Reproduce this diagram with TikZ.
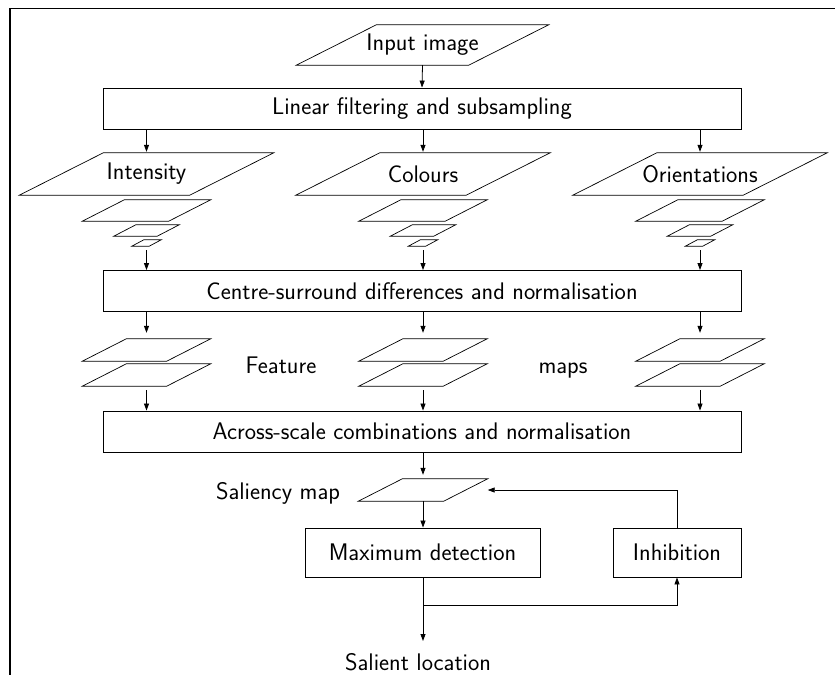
\documentclass[tikz,border=0pt]{standalone}
\usepackage{fontspec}
\usetikzlibrary{arrows.meta,calc}
\tikzset{
  box/.style={draw, line width=0.9pt, inner sep=0pt, font=\sffamily\fontsize{24}{28}\selectfont},
  wide/.style={box, minimum width=638pt, minimum height=41pt},
  plain/.style={inner sep=0pt, font=\sffamily\fontsize{24}{28}\selectfont},
  pline/.style={line width=0.7pt, line join=miter},
  arr/.style={line width=0.8pt, -{Triangle[length=7pt,width=5pt]}},
  conn/.style={line width=0.8pt},
  frame/.style={line width=1.3pt}
}
% name, cx, cy, w, h, text
\newcommand\mypara[6]{%
  \node[plain, minimum width=#4pt, minimum height=#5pt] (#1) at (#2,#3) {#6};
  \draw[pline] ($(#1.north west)+(#5pt,0)$) -- ($(#1.north east)+(#5pt,0)$)
    -- ($(#1.south east)+(-#5pt,0)$) -- ($(#1.south west)+(-#5pt,0)$) -- cycle;}
\begin{document}
\begin{tikzpicture}[x=1pt,y=-1pt]
\useasboundingbox (0,0) rectangle (835,675);
\draw[frame] (835,8.5) -- (10,8.5) -- (10,675);

% top
\mypara{inp}{422.5}{45}{172}{40}{Input image}
\node[wide] (lin) at (422,108.5) {Linear filtering and subsampling};

% columns
\foreach \c/\x/\t in {i/146.5/Intensity, c/423/Colours, o/700/Orientations}{
  \mypara{p\c}{\x}{174}{170}{42}{\t}
  \mypara{a\c}{\x}{210.5}{86}{21}{}
  \mypara{b\c}{\x}{230.5}{43}{11}{}
  \mypara{d\c}{\x}{243}{17}{6}{}
}
\node[wide] (cen) at (422,291) {Centre-surround differences and normalisation};
\foreach \c/\x in {i/146.5, c/423, o/700}{
  \mypara{f\c}{\x}{350}{84}{22}{}
  \mypara{g\c}{\x}{375}{84}{22}{}
}
\node[plain, anchor=base] (feat) at (281,373) {Feature};
\node[plain, anchor=base] (maps) at (563,373) {maps};
\node[wide] (acr) at (422,431.5) {Across-scale combinations and normalisation};

% bottom
\mypara{sal}{423}{490}{85}{22}{}
\node[plain, anchor=base] (sallab) at (278,499) {Saliency map};
\node[box, minimum width=235pt, minimum height=49pt] (max) at (422.5,552.5) {Maximum detection};
\node[box, minimum width=128pt, minimum height=49pt] (inh) at (677,552.5) {Inhibition};
\node[plain, anchor=base] (loc) at (418,670) {Salient location};

% connectors
\draw[arr] (inp.south) -- (lin.north);
\foreach \c in {i,c,o}{
  \draw[arr, shorten >=1pt] (lin.south -| p\c.center) -- (p\c.north);
  \draw[arr, shorten <=4pt] (d\c.south) -- (cen.north -| d\c.center);
  \draw[arr, shorten >=6pt] (cen.south -| f\c.center) -- (f\c.north);
  \draw[arr, shorten <=4pt] (g\c.south) -- (acr.north -| g\c.center);
}
\draw[arr, shorten >=4pt] (acr.south -| sal.center) -- (sal.north);
\draw[arr] (sal.south) -- (max.north -| sal.center);
\coordinate (fb) at ($(sal.east)+(22pt,0)$);
\draw[arr] (inh.north) |- (fb);
\coordinate (loctip) at (423,641);
\coordinate (br) at (423,605);
\draw[arr] (max.south -| loctip) -- (loctip);
\draw[arr] (br) -| (inh.south);
\end{tikzpicture}
\end{document}
